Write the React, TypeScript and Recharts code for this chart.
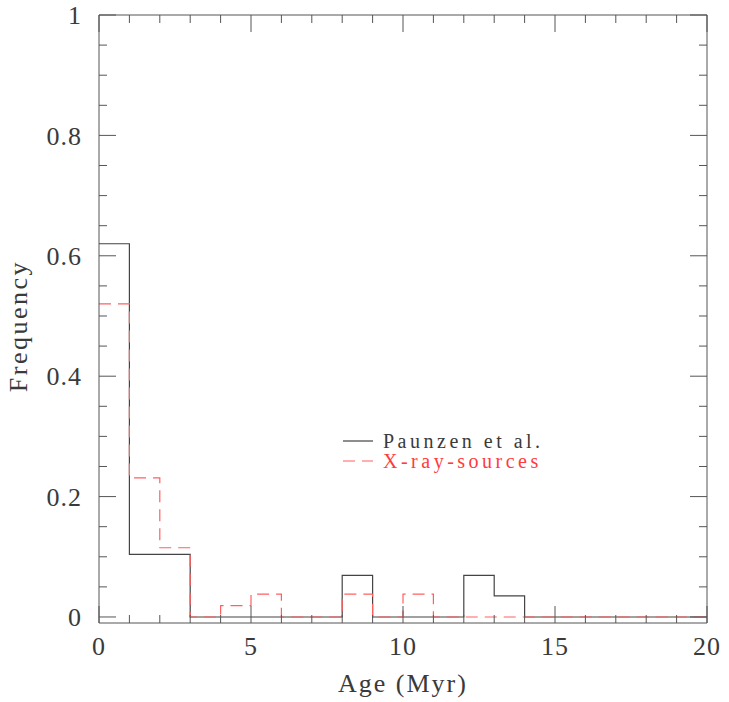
import React from "react";
import { LineChart, Line, XAxis, YAxis, Legend } from "recharts";

// histogram bin edges (Myr) and bin heights
const binEdges = [0, 1, 2, 3, 4, 5, 6, 7, 8, 9, 10, 11, 12, 13, 14, 15, 16, 17, 18, 19, 20];
const paunzen = [0.62, 0.104, 0.104, 0, 0, 0, 0, 0, 0.069, 0, 0, 0, 0.069, 0.035, 0, 0, 0, 0, 0, 0];
const xraySources = [0.52, 0.231, 0.115, 0, 0.019, 0.038, 0, 0, 0.038, 0, 0.038, 0, 0, 0, 0, 0, 0, 0, 0, 0];

const xTickLabels = [0, 5, 10, 15, 20];
const xMinorTicks = [0, 1, 2, 3, 4, 5, 6, 7, 8, 9, 10, 11, 12, 13, 14, 15, 16, 17, 18, 19, 20];
const yTickLabels = [0, 0.2, 0.4, 0.6, 0.8, 1];
const yMinorTicks = [
  0, 0.05, 0.1, 0.15, 0.2, 0.25, 0.3, 0.35, 0.4, 0.45, 0.5,
  0.55, 0.6, 0.65, 0.7, 0.75, 0.8, 0.85, 0.9, 0.95, 1,
];

// stepAfter needs one closing point at the last edge
const data = binEdges.map((age, i) => ({
  age,
  paunzen: paunzen[Math.min(i, paunzen.length - 1)],
  xray: xraySources[Math.min(i, xraySources.length - 1)],
}));

const FONT = "'Liberation Serif', 'DejaVu Serif', serif";
const INK = "#3a3a3a";
const AXIS = "#555";

// inward tick marks, long for the labelled values
const inTick = (majors: number[], dx: number, dy: number) => (props: any) => {
  const { x, y, payload } = props;
  const len = majors.includes(payload.value) ? 17 : 8;
  return (
    <line x1={x} y1={y} x2={x + dx * len} y2={y + dy * len} stroke={AXIS} strokeWidth={1} />
  );
};

const LegendBox = (props: any) => {
  const { payload } = props;
  return (
    <div style={{ fontFamily: FONT, fontSize: 20, letterSpacing: 3.5, lineHeight: "20px" }}>
      {payload.map((entry: any) => (
        <div key={entry.value} style={{ display: "flex", alignItems: "center", height: 20 }}>
          <svg width={30} height={4} style={{ overflow: "visible" }}>
            <line
              x1={0}
              y1={2}
              x2={30}
              y2={2}
              stroke={entry.color}
              strokeWidth={1.2}
              strokeDasharray={entry.payload.strokeDasharray}
            />
          </svg>
          <span style={{ marginLeft: 10, color: entry.value === "X-ray-sources" ? "#ff3b3b" : INK }}>
            {entry.value}
          </span>
        </div>
      ))}
    </div>
  );
};

export default function App() {
  return (
    <div style={{ position: "absolute", left: 0, top: 0, background: "#fff" }}>
      <LineChart
        width={729}
        height={702}
        data={data}
        margin={{ top: 15, right: 22, left: 0, bottom: 0 }}
      >
        <XAxis
          xAxisId="x"
          dataKey="age"
          type="number"
          domain={[0, 20]}
          allowDataOverflow
          ticks={xTickLabels}
          interval={0}
          height={79}
          tickLine={false}
          tickSize={0}
          tickMargin={14}
          axisLine={{ stroke: AXIS }}
          tick={{ fill: INK, fontFamily: FONT, fontSize: 26, letterSpacing: 1 }}
          label={{
            content: (p: any) => {
              const vb = p.viewBox;
              return (
                <text
                  x={vb.x + vb.width / 2}
                  y={vb.y + 69}
                  textAnchor="middle"
                  fill={INK}
                  fontFamily={FONT}
                  fontSize={26}
                  letterSpacing={2}
                >
                  Age (Myr)
                </text>
              );
            },
          }}
        />
        <XAxis
          xAxisId="xb"
          type="number"
          domain={[0, 20]}
          allowDataOverflow
          orientation="bottom"
          mirror
          ticks={xMinorTicks}
          interval={0}
          tickLine={false}
          tickSize={0}
          tickMargin={0}
          axisLine={false}
          tick={inTick(xTickLabels, 0, -1)}
        />
        <XAxis
          xAxisId="xt"
          type="number"
          domain={[0, 20]}
          allowDataOverflow
          orientation="top"
          mirror
          ticks={xMinorTicks}
          interval={0}
          tickLine={false}
          tickSize={0}
          tickMargin={0}
          axisLine={{ stroke: AXIS }}
          tick={inTick(xTickLabels, 0, 1)}
        />
        <YAxis
          yAxisId="y"
          type="number"
          domain={[-0.01, 1]}
          allowDataOverflow
          ticks={yTickLabels}
          interval={0}
          width={99}
          tickLine={false}
          tickSize={0}
          tickMargin={17}
          axisLine={{ stroke: AXIS }}
          tickFormatter={(v: number) => String(v)}
          tick={{ fill: INK, fontFamily: FONT, fontSize: 26, letterSpacing: 1 }}
          label={{
            content: (p: any) => {
              const vb = p.viewBox;
              const cy = vb.y + vb.height / 2 + 7;
              return (
                <text
                  x={18}
                  y={cy}
                  transform={`rotate(-90 18 ${cy})`}
                  textAnchor="middle"
                  dominantBaseline="central"
                  fill={INK}
                  fontFamily={FONT}
                  fontSize={26}
                  letterSpacing={2.5}
                >
                  Frequency
                </text>
              );
            },
          }}
        />
        <YAxis
          yAxisId="yl"
          type="number"
          domain={[-0.01, 1]}
          allowDataOverflow
          orientation="left"
          mirror
          ticks={yMinorTicks}
          interval={0}
          tickLine={false}
          tickSize={0}
          tickMargin={0}
          axisLine={false}
          tick={inTick(yTickLabels, 1, 0)}
        />
        <YAxis
          yAxisId="yr"
          type="number"
          domain={[-0.01, 1]}
          allowDataOverflow
          orientation="right"
          mirror
          ticks={yMinorTicks}
          interval={0}
          tickLine={false}
          tickSize={0}
          tickMargin={0}
          axisLine={{ stroke: AXIS }}
          tick={inTick(yTickLabels, -1, 0)}
        />
        <Legend
          verticalAlign="middle"
          align="center"
          layout="vertical"
          content={<LegendBox />}
          wrapperStyle={{ left: 343, top: 431, width: 260 }}
        />
        <Line
          xAxisId="x"
          yAxisId="y"
          name="Paunzen et al."
          dataKey="paunzen"
          type="stepAfter"
          stroke="#444"
          strokeWidth={1.2}
          dot={false}
          activeDot={false}
          isAnimationActive={false}
        />
        <Line
          xAxisId="x"
          yAxisId="y"
          name="X-ray-sources"
          dataKey="xray"
          type="stepAfter"
          stroke="#ff6060"
          strokeWidth={1.2}
          strokeDasharray="12 7"
          dot={false}
          activeDot={false}
          isAnimationActive={false}
        />
      </LineChart>
    </div>
  );
}
